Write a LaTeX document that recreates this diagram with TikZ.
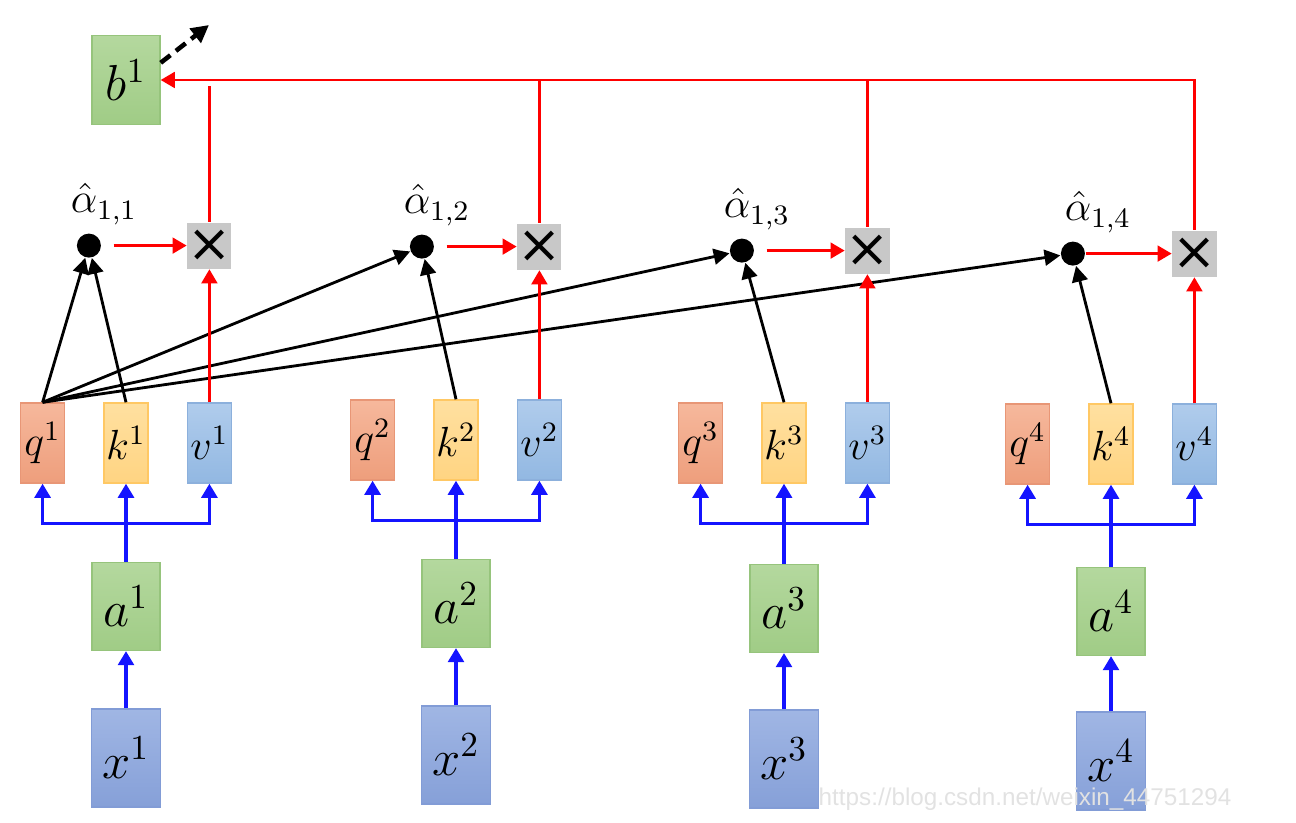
\documentclass[tikz,border=0pt]{standalone}
\usepackage{fontspec}
\newfontfamily\symbfont{DejaVu Sans}
\newfontfamily\markfont{Liberation Sans}
\usetikzlibrary{arrows.meta, positioning}

\definecolor{qfill}{RGB}{238,158,124}
\definecolor{qtop}{RGB}{246,184,156}
\definecolor{qline}{RGB}{232,150,118}
\definecolor{kfill}{RGB}{255,212,130}
\definecolor{ktop}{RGB}{255,224,160}
\definecolor{kline}{RGB}{255,200,100}
\definecolor{vfill}{RGB}{146,184,226}
\definecolor{vtop}{RGB}{176,204,236}
\definecolor{vline}{RGB}{140,176,220}
\definecolor{afill}{RGB}{160,204,134}
\definecolor{atop}{RGB}{180,216,158}
\definecolor{aline}{RGB}{150,196,124}
\definecolor{xfill}{RGB}{134,160,216}
\definecolor{xtop}{RGB}{160,182,228}
\definecolor{xline}{RGB}{130,156,214}
\definecolor{mulgray}{RGB}{200,200,200}
\definecolor{arrowblue}{RGB}{20,20,255}
\definecolor{markgray}{RGB}{226,226,226}

\begin{document}
\begin{tikzpicture}[
    node distance=0.38cm,
    cell/.style={rectangle, inner sep=0pt, font=\Large},
    qbox/.style={cell, font=\large, draw=qline, top color=qtop, bottom color=qfill, minimum width=0.44cm, minimum height=0.8cm},
    kbox/.style={cell, font=\large, draw=kline, top color=ktop, bottom color=kfill, minimum width=0.44cm, minimum height=0.8cm},
    vbox/.style={cell, font=\large, draw=vline, top color=vtop, bottom color=vfill, minimum width=0.44cm, minimum height=0.8cm},
    abox/.style={cell, draw=aline, top color=atop, bottom color=afill, minimum width=0.68cm, minimum height=0.88cm},
    xbox/.style={cell, draw=xline, top color=xtop, bottom color=xfill, minimum width=0.69cm, minimum height=0.98cm},
    mulbox/.style={rectangle, fill=mulgray, minimum width=0.44cm, minimum height=0.46cm, inner sep=0pt, font={\symbfont\fontsize{15}{15}\selectfont}},
    scoredot/.style={circle, fill=black, minimum size=0.24cm, inner sep=0pt},
    alabel/.style={inner sep=1pt, font=\large},
    bluearrow/.style={draw=arrowblue, line width=0.9pt, -{Triangle[length=4pt, width=4.5pt]}},
    redarrow/.style={draw=red, line width=0.7pt, -{Triangle[length=4pt, width=4.5pt]}},
    redline/.style={draw=red, line width=0.7pt},
    blackarrow/.style={draw=black, line width=0.8pt, -{Triangle[length=4.5pt, width=4.5pt]}}
]
\useasboundingbox (0,0) rectangle (12.96,-8.23);

% output
\node[abox, minimum height=0.89cm] (b1) at (1.26,-0.80) {$b^1$};

% first column
\node[kbox] (k1) at (1.26,-4.43) {$k^1$};
\node[qbox, left=of k1] (q1) {$q^1$};
\node[vbox, right=of k1] (v1) {$v^1$};
\node[abox, below=0.78cm of k1] (a1) {$a^1$};
\node[xbox, below=0.57cm of a1] (x1) {$x^1$};

% second column
\node[kbox] (k2) at (4.56,-4.40) {$k^2$};
\node[qbox, left=of k2] (q2) {$q^2$};
\node[vbox, right=of k2] (v2) {$v^2$};
\node[abox, below=0.78cm of k2] (a2) {$a^2$};
\node[xbox, below=0.57cm of a2] (x2) {$x^2$};

% third column
\node[kbox] (k3) at (7.84,-4.43) {$k^3$};
\node[qbox, left=of k3] (q3) {$q^3$};
\node[vbox, right=of k3] (v3) {$v^3$};
\node[abox, below=0.80cm of k3] (a3) {$a^3$};
\node[xbox, below=0.56cm of a3] (x3) {$x^3$};

% fourth column
\node[kbox] (k4) at (11.11,-4.44) {$k^4$};
\node[qbox, left=of k4] (q4) {$q^4$};
\node[vbox, right=of k4] (v4) {$v^4$};
\node[abox, below=0.82cm of k4] (a4) {$a^4$};
\node[xbox, below=0.55cm of a4] (x4) {$x^4$};

% weights times values
\node[mulbox, above=1.33cm of v1] (mul1) {×};
\node[mulbox, above=1.29cm of v2] (mul2) {×};
\node[mulbox, above=1.28cm of v3] (mul3) {×};
\node[mulbox, above=1.26cm of v4] (mul4) {×};

\node[scoredot, left=0.85cm of mul1] (s1) {};
\node[scoredot, left=0.82cm of mul2] (s2) {};
\node[scoredot, left=0.90cm of mul3] (s3) {};
\node[scoredot, left=0.86cm of mul4] (s4) {};

\node[alabel, above=0.04cm of s1, xshift=0.15cm] (al1) {$\hat{\alpha}_{1,1}$};
\node[alabel, above=0.04cm of s2, xshift=0.15cm] (al2) {$\hat{\alpha}_{1,2}$};
\node[alabel, above=0.04cm of s3, xshift=0.15cm] (al3) {$\hat{\alpha}_{1,3}$};
\node[alabel, above=0.04cm of s4, xshift=0.25cm] (al4) {$\hat{\alpha}_{1,4}$};

% branch points
\coordinate[below=0.40cm of k1.south] (br1);
\coordinate[below=0.40cm of k2.south] (br2);
\coordinate[below=0.40cm of k3.south] (br3);
\coordinate[below=0.40cm of k4.south] (br4);
\coordinate (bnext) at (2.09,-0.25);

% x -> a -> q,k,v
\draw[bluearrow] (x1) -- (a1);
\draw[bluearrow] (a1) -- (k1);
\draw[bluearrow] (br1) -| (q1);
\draw[bluearrow] (br1) -| (v1);

\draw[bluearrow] (x2) -- (a2);
\draw[bluearrow] (a2) -- (k2);
\draw[bluearrow] (br2) -| (q2);
\draw[bluearrow] (br2) -| (v2);

\draw[bluearrow] (x3) -- (a3);
\draw[bluearrow] (a3) -- (k3);
\draw[bluearrow] (br3) -| (q3);
\draw[bluearrow] (br3) -| (v3);

\draw[bluearrow] (x4) -- (a4);
\draw[bluearrow] (a4) -- (k4);
\draw[bluearrow] (br4) -| (q4);
\draw[bluearrow] (br4) -| (v4);

% q1 with every k
\draw[blackarrow] (q1.north) -- (s1);
\draw[blackarrow] (q1.north) -- (s2);
\draw[blackarrow] (q1.north) -- (s3);
\draw[blackarrow] (q1.north) -- (s4);
\draw[blackarrow] (k1.north) -- (s1);
\draw[blackarrow] (k2.north) -- (s2);
\draw[blackarrow] (k3.north) -- (s3);
\draw[blackarrow] (k4.north) -- (s4);

% weighted values
\draw[redarrow, shorten <=0.12cm] (s1) -- (mul1);
\draw[redarrow, shorten <=0.12cm] (s2) -- (mul2);
\draw[redarrow, shorten <=0.12cm] (s3) -- (mul3);
\draw[redarrow] (s4) -- (mul4);
\draw[redarrow] (v1) -- (mul1);
\draw[redarrow] (v2) -- (mul2);
\draw[redarrow] (v3) -- (mul3);
\draw[redarrow] (v4) -- (mul4);

% sum into b1
\draw[redarrow] (mul4.north) |- (b1.east);
\draw[redline] (mul3.north) -- (mul3.north |- b1.east);
\draw[redline] (mul2.north) -- (mul2.north |- b1.east);
\draw[redline, shorten >=0.06cm] (mul1.north) -- (mul1.north |- b1.east);

\draw[line width=1.3pt, dash pattern=on 3.5pt off 2pt, -{Triangle[length=5pt, width=5pt]}] ([yshift=-0.28cm]b1.north east) -- (bnext);

\node[font={\markfont\fontsize{6.9}{6.9}\selectfont}, text=markgray] (mark) at (10.25,-7.99) {https://blog.csdn.net/weixin\_44751294};

\end{tikzpicture}
\end{document}
